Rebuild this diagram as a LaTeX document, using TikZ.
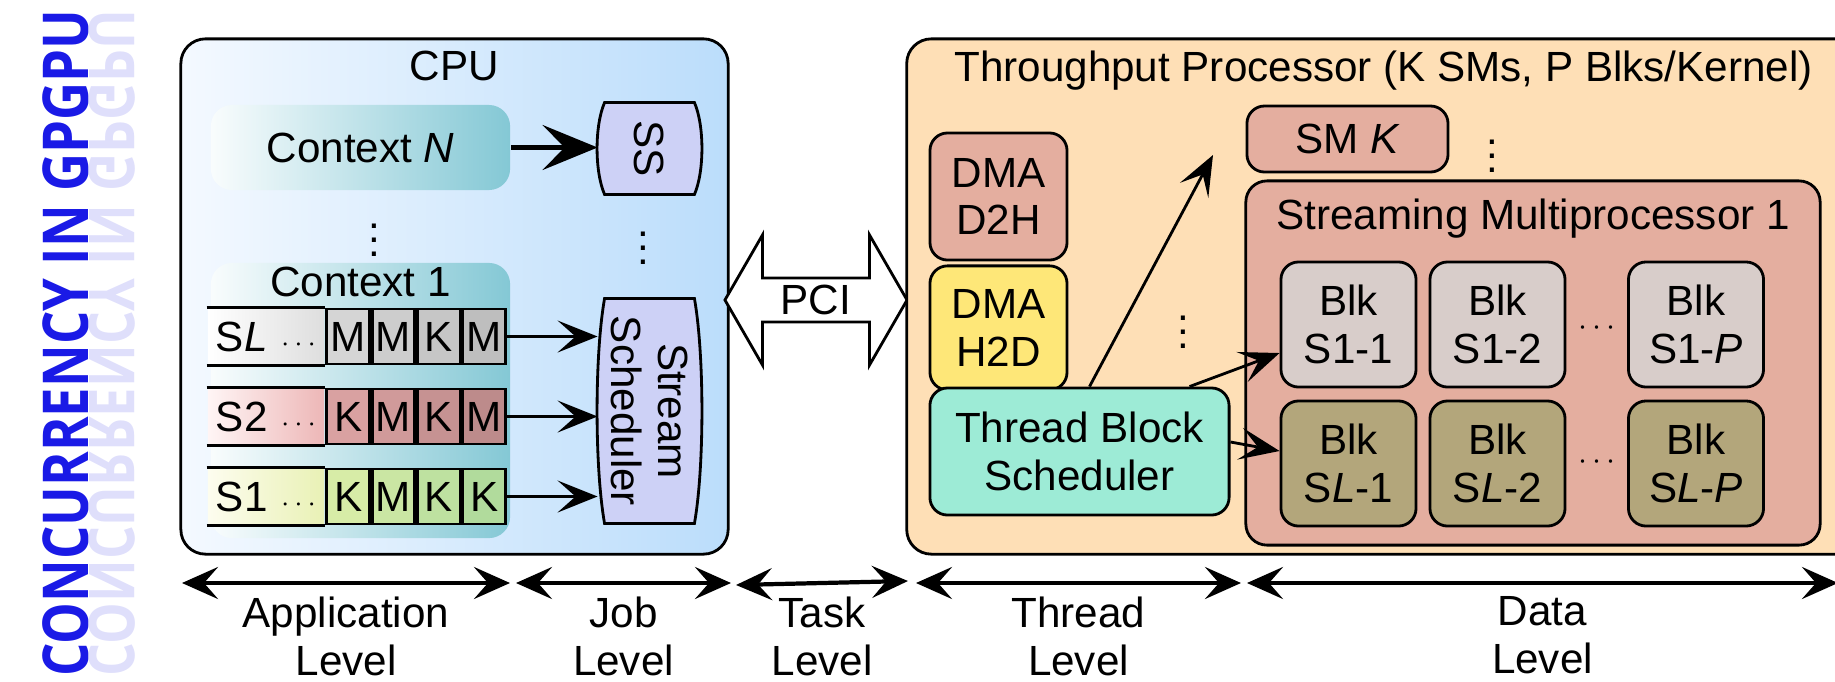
\documentclass[tikz,border=0pt]{standalone}
\usepackage{fontspec}
\setmainfont{Liberation Sans}
\newfontfamily\bannerfont{Open Sans}
\usetikzlibrary{arrows.meta,shapes.arrows,positioning,calc}

\definecolor{bannerblue}{HTML}{1A1AE6}
\definecolor{cpuleft}{HTML}{F4F9FF}
\definecolor{cpuright}{HTML}{BBDDFB}
\definecolor{ctxcol}{HTML}{84C8D5}
\definecolor{slname}{HTML}{DEDEDE}
\definecolor{slhi}{HTML}{D5D5D5}
\definecolor{sllo}{HTML}{BEBEBE}
\definecolor{s2left}{HTML}{FFF5F5}
\definecolor{s2name}{HTML}{EDB7B7}
\definecolor{s2hi}{HTML}{D9A1A1}
\definecolor{s2lo}{HTML}{BD8B8B}
\definecolor{s1left}{HTML}{FDFDEF}
\definecolor{s1name}{HTML}{E9F1B5}
\definecolor{s1hi}{HTML}{D7ECA7}
\definecolor{s1lo}{HTML}{B1DB9C}
\definecolor{sscol}{HTML}{CDD1F6}
\definecolor{tpcol}{HTML}{FEDFB6}
\definecolor{smcol}{HTML}{E4AE9F}
\definecolor{h2dcol}{HTML}{FEE778}
\definecolor{tbscol}{HTML}{9DEBD6}
\definecolor{blkone}{HTML}{D8CDCA}
\definecolor{blktwo}{HTML}{B3A67B}

\begin{document}
\begin{tikzpicture}[x=0.01cm,y=-0.01cm,thick,font=\fontsize{12}{13.6}\selectfont,
  box/.style={draw,rounded corners=5pt,align=center,inner sep=0pt},
  big box/.style={draw,rounded corners=7pt,minimum width=#1,minimum height=5.15cm},
  ctx box/.style={rounded corners=6pt,left color=ctxcol!5,right color=ctxcol,minimum width=2.99cm,inner sep=0pt},
  row name/.style={minimum width=1.16cm,minimum height=0.55cm,text width=1.0cm,inner xsep=0.08cm,inner ysep=0pt,align=left},
  cell/.style={draw,minimum width=0.425cm,minimum height=0.55cm,inner sep=0pt,right=0pt of #1},
  blk/.style={box,minimum width=1.35cm,minimum height=1.25cm},
  dots/.style={inner sep=0pt},
  banner/.style={rotate=90,anchor=base,text=bannerblue,font=\bannerfont\bfseries\fontsize{18}{18}\selectfont},
  pci/.style={double arrow,draw,fill=white,double arrow head extend=0.32cm,double arrow tip angle=120,minimum height=1.82cm,minimum width=1.30cm,inner sep=0pt}]
\tikzstyle{barrel} = [draw,fill=sscol]
\tikzstyle{ctx arrow} = [line width=1.3pt,-{Stealth[length=0.55cm,width=0.45cm,inset=0.22cm]}]
\tikzstyle{stream arrow} = [line width=0.8pt,-{Stealth[length=0.4cm,width=0.32cm,inset=0.18cm]}]
\tikzstyle{level arrow} = [line width=1.2pt,{Stealth[length=0.36cm,width=0.32cm,inset=0.14cm]}-{Stealth[length=0.36cm,width=0.32cm,inset=0.14cm]}]

\clip (0,0) rectangle (1835,681);

% Banner and its reflection
\node[banner] (banner) at (88,343) {\scalebox{0.83}[1]{CONCURRENCY IN GPGPU}};
\node[banner,text=bannerblue!14] (bannerecho) at (90,343) {\scalebox{0.83}[-1]{CONCURRENCY IN GPGPU}};

% CPU
\node[big box=5.47cm,left color=cpuleft,right color=cpuright] (cpu) at (454.5,296.5) {};
\node[below=0pt of cpu.north] (cputitle) {CPU};

\node[ctx box,minimum height=0.85cm] (ctxN) at (360.5,147.5) {Context \textit{N}};
\node[dots] (ctxdots) at (374,230) {$\vdots$};
\node[ctx box,minimum height=2.75cm] (ctx1) at (360.5,400.5) {};
\node[anchor=base] (ctx1title) at (360.5,296) {Context 1};

% Streams
\node[row name,left color=white,right color=slname] (slname) at (266,336.5) {S\textit{L}\hfill{\fontsize{8}{8}\selectfont$\cdots$}};
\node[cell=slname,fill=slhi] (sl1) {M};
\node[cell=sl1,fill=slhi!67!sllo] (sl2) {M};
\node[cell=sl2,fill=slhi!33!sllo] (sl3) {K};
\node[cell=sl3,fill=sllo] (sl4) {M};

\node[row name,left color=s2left,right color=s2name] (s2name) at (266,416.5) {S2\hfill{\fontsize{8}{8}\selectfont$\cdots$}};
\node[cell=s2name,fill=s2hi] (s21) {K};
\node[cell=s21,fill=s2hi!67!s2lo] (s22) {M};
\node[cell=s22,fill=s2hi!33!s2lo] (s23) {K};
\node[cell=s23,fill=s2lo] (s24) {M};

\node[row name,left color=s1left,right color=s1name] (s1name) at (266,496.5) {S1\hfill{\fontsize{8}{8}\selectfont$\cdots$}};
\node[cell=s1name,fill=s1hi] (s11) {K};
\node[cell=s11,fill=s1hi!67!s1lo] (s12) {M};
\node[cell=s12,fill=s1hi!33!s1lo] (s13) {K};
\node[cell=s13,fill=s1lo] (s14) {K};

\draw (slname.north west) -- (slname.north east) (slname.south west) -- (slname.south east);
\draw (s2name.north west) -- (s2name.north east) (s2name.south west) -- (s2name.south east);
\draw (s1name.north west) -- (s1name.north east) (s1name.south west) -- (s1name.south east);

% Stream schedulers
\node[minimum width=1.01cm,minimum height=0.89cm] (ss) at (649.5,148.5) {};
\filldraw[barrel] ($(ss.north west)+(7,0)$) -- ($(ss.north east)+(-7,0)$)
  .. controls ($(ss.north east)!0.25!(ss.south east)+(3,0)$) and ($(ss.north east)!0.75!(ss.south east)+(3,0)$) .. ($(ss.south east)+(-7,0)$)
  -- ($(ss.south west)+(7,0)$)
  .. controls ($(ss.south west)!0.25!(ss.north west)+(-3,0)$) and ($(ss.south west)!0.75!(ss.north west)+(-3,0)$) .. cycle;
\node[rotate=-90] (sstext) at (ss) {SS};
\node[dots] (ssdots) at (643,238) {$\vdots$};

\node[minimum width=1.01cm,minimum height=2.22cm] (sched) at (649.5,411) {};
\filldraw[barrel] ($(sched.north west)+(7,0)$) -- ($(sched.north east)+(-7,0)$)
  .. controls ($(sched.north east)!0.25!(sched.south east)+(3,0)$) and ($(sched.north east)!0.75!(sched.south east)+(3,0)$) .. ($(sched.south east)+(-7,0)$)
  -- ($(sched.south west)+(7,0)$)
  .. controls ($(sched.south west)!0.25!(sched.north west)+(-3,0)$) and ($(sched.south west)!0.75!(sched.north west)+(-3,0)$) .. cycle;
\node[rotate=-90,align=center] (schedtext) at (sched) {Stream\\Scheduler};

\draw[ctx arrow] (ctxN.east) -- (ctxN.east -| ss.west);
\draw[stream arrow] (sl4.east) -- (sl4.east -| sched.west);
\draw[stream arrow] (s24.east) -- (s24.east -| sched.west);
\draw[stream arrow] (s14.east) -- (s14.east -| sched.west);

% PCI link
\node[pci] (pci) at (816,300) {PCI};

% Throughput processor
\node[big box=9.53cm,fill=tpcol] (tp) at (1383.5,296.5) {};
\node[below=0pt of tp.north] (tptitle) {Throughput Processor (K SMs, P Blks/Kernel)};

\node[box,fill=smcol,minimum width=1.37cm,minimum height=1.27cm] (d2h) at (998.5,196.5) {DMA\\D2H};
\node[box,fill=h2dcol,minimum width=1.37cm,minimum height=1.24cm,below=0.03cm of d2h] (h2d) {DMA\\H2D};
\node[box,fill=tbscol,minimum width=2.99cm,minimum height=1.27cm] (tbs) at (1079.5,451.5) {Thread Block\\Scheduler};
\node[dots] (tbsdots) at (1183,322) {$\vdots$};

\node[box,fill=smcol,minimum width=2.01cm,minimum height=0.66cm] (smk) at (1347.5,139) {SM \textit{K}};
\node[dots] (smkdots) at (1492,146) {$\vdots$};
\node[big box=5.74cm,minimum height=3.64cm,rounded corners=6pt,fill=smcol] (sm1) at (1533,363) {};
\node[below=0.06cm of sm1.north] (sm1title) {Streaming Multiprocessor 1};

\node[blk,fill=blkone] (b11) at (1348.5,324.5) {Blk\\S1-1};
\node[blk,fill=blkone] (b12) at (1497.5,324.5) {Blk\\S1-2};
\node[dots] (b1dots) at (1597,328) {\fontsize{9}{9}\selectfont$\cdots$};
\node[blk,fill=blkone] (b1p) at (1696,324.5) {Blk\\S1-\textit{P}};

\node[blk,fill=blktwo] (b21) at (1348.5,463.5) {Blk\\S\textit{L}-1};
\node[blk,fill=blktwo] (b22) at (1497.5,463.5) {Blk\\S\textit{L}-2};
\node[dots] (b2dots) at (1597,462) {\fontsize{9}{9}\selectfont$\cdots$};
\node[blk,fill=blktwo] (b2p) at (1696,463.5) {Blk\\S\textit{L}-\textit{P}};

\coordinate (smkin) at (1213,155);
\draw[stream arrow] ([xshift=0.1cm]tbs.north) -- (smkin);
\draw[stream arrow] ([xshift=1.1cm]tbs.north) -- ([yshift=-0.285cm]b11.west);
\draw[stream arrow] ([yshift=0.095cm]tbs.east) -- ([yshift=0.125cm]b21.west);

% Levels of concurrency
\coordinate (appl) at (182,583);  \coordinate (appr) at (510,583);
\coordinate (jobl) at (516,583);  \coordinate (jobr) at (731,583);
\coordinate (taskl) at (736,585); \coordinate (taskr) at (908,581);
\coordinate (thrl) at (916,583);  \coordinate (thrr) at (1241,583);
\coordinate (datal) at (1247,583); \coordinate (datar) at (1838,583);

\draw[level arrow] (appl) -- node[below,align=center] (applabel) {Application\\Level} (appr);
\draw[level arrow] (jobl) -- node[below,align=center] (joblabel) {Job\\Level} (jobr);
\draw[level arrow] (taskl) -- node[below,align=center] (tasklabel) {Task\\Level} (taskr);
\draw[level arrow] (thrl) -- node[below,align=center] (thrlabel) {Thread\\Level} (thrr);
\draw[level arrow] (datal) -- node[below,align=center] (datalabel) {Data\\Level} (datar);

\end{tikzpicture}
\end{document}
